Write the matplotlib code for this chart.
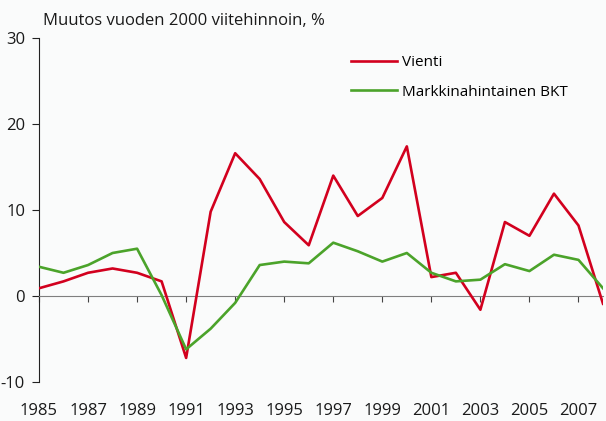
import matplotlib.pyplot as plt
import numpy as np

years = np.arange(1985, 2009)

vienti = [0.9, 1.7, 2.7, 3.2, 2.7, 1.7, -7.2, 9.8, 16.6, 13.6, 8.6, 5.9,
          14.0, 9.3, 11.4, 17.4, 2.2, 2.7, -1.6, 8.6, 7.0, 11.9, 8.2, -0.9]
bkt = [3.4, 2.7, 3.6, 5.0, 5.5, 0.1, -6.2, -3.8, -0.8, 3.6, 4.0, 3.8,
       6.2, 5.2, 4.0, 5.0, 2.7, 1.7, 1.9, 3.7, 2.9, 4.8, 4.2, 0.9]

xticks = np.arange(1985, 2008, 2)
yticks = [-10, 0, 10, 20, 30]

plt.rcParams['font.family'] = ['Open Sans', 'DejaVu Sans']
plt.rcParams['axes.unicode_minus'] = False
bg = '#fafbfb'

fig = plt.figure(figsize=(6.06, 4.21), dpi=100, facecolor=bg)
ax = fig.add_axes([39 / 606, 39 / 421, (603 - 39) / 606, (382 - 38) / 421])
ax.set_facecolor(bg)

ax.plot(years, vienti, color='#d2001e', lw=1.9, label='Vienti', zorder=3)
ax.plot(years, bkt, color='#4ba32a', lw=1.9, label='Markkinahintainen BKT', zorder=3)

ax.set_xlim(1985, 2008)
ax.set_ylim(-10, 30)

ax.spines['top'].set_visible(False)
ax.spines['right'].set_visible(False)
ax.spines['bottom'].set_position(('data', 0))
ax.spines['bottom'].set_color('#7f7f7f')
ax.spines['left'].set_color('#222222')

ax.set_xticks(xticks)
ax.set_xticklabels([str(y) for y in xticks])
ax.set_yticks(yticks)
ax.tick_params(axis='x', direction='out', length=4, color='#444444',
               pad=73, labelsize=12, labelcolor='#1a1a1a')
ax.tick_params(axis='y', direction='out', length=5, color='#222222',
               pad=5, labelsize=12, labelcolor='#1a1a1a')

fig.text(43 / 606, 1 - 25 / 421, 'Muutos vuoden 2000 viitehinnoin, %',
         fontsize=12, color='#1a1a1a', ha='left', va='baseline')

ax.legend(loc='upper left', bbox_to_anchor=(351 / 606, 1 - 55 / 421),
          bbox_transform=fig.transFigure, frameon=False, fontsize=11,
          handlelength=3.0, handletextpad=0.35, labelspacing=0.95,
          borderpad=0, borderaxespad=0)

fig.savefig('out.png', dpi=100, facecolor=bg)
